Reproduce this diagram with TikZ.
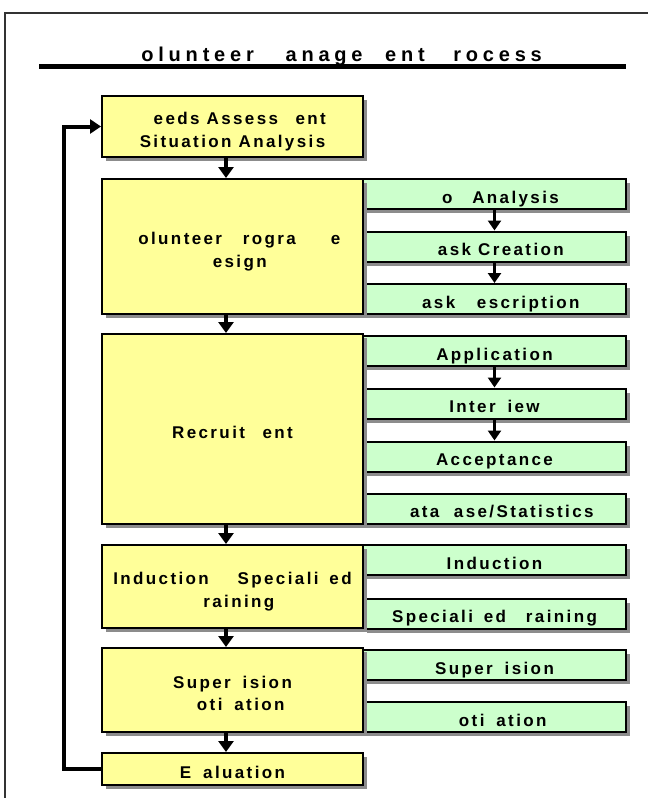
\documentclass[tikz,border=0pt]{standalone}
\usepackage{fontspec}
\newfontfamily\boxfont{Liberation Sans}[LetterSpace=14]
\newfontfamily\titlefont{Liberation Sans}[LetterSpace=24]
\usetikzlibrary{arrows.meta,shadows}
\definecolor{stageyellow}{HTML}{FFFF99}
\definecolor{taskgreen}{HTML}{CCFFCC}
\definecolor{shadowgray}{HTML}{8C8C8C}
% room left where a letter is not printed
\newcommand{\gap}[1]{\hspace{#1em}}

\begin{document}
\begin{tikzpicture}[x=1pt, y=-1pt,
    boxshadow/.style = {drop shadow={shadow xshift=4pt, shadow yshift=-4pt, fill=shadowgray, opacity=1}},
    stage/.style = {draw, line width=2pt, fill=stageyellow, boxshadow, minimum width=261pt, inner sep=0pt, align=center, font=\boxfont\bfseries\fontsize{17}{22.5}\selectfont},
    oneline/.style = {text height=18pt, text depth=0pt},
    twoline/.style = {text height=41pt, text depth=0pt},
    task/.style = {draw, line width=2pt, fill=taskgreen, boxshadow, minimum width=263pt, minimum height=30pt, inner sep=0pt, oneline, font=\boxfont\bfseries\fontsize{17}{20}\selectfont},
    flow/.style = {line width=3.5pt, -{Triangle[length=11pt,width=15pt]}},
    subflow/.style = {line width=3pt, -{Triangle[length=10pt,width=13pt]}},
    backflow/.style = {line width=4pt, -{Triangle[length=11pt,width=14pt]}}]

    \useasboundingbox (0,0) rectangle (648,798);

    % frame and title
    \draw[line width=2pt, black!80] (5,800) -- (5,13) -- (650,13);
    \node[anchor=base, font=\titlefont\bfseries\fontsize{20}{20}\selectfont] (title) at (332.5,61.5)
        {\gap{.91}olunteer \gap{1.07}anage\gap{1.13}ent \gap{.91}rocess};
    \draw[line width=4.5pt] (39,66.5) -- (626,66.5);

    % tasks
    \node[task] (job)         at (494.5,194)   {\gap{.70}o\gap{.75} Analysis};
    \node[task] (taskcreate)  at (494.5,246.5) {\gap{.75}ask Creation};
    \node[task] (taskdesc)    at (494.5,299)   {\gap{.75}ask \gap{.86}escription};
    \node[task] (application) at (494.5,351)   {Application};
    \node[task] (interview)   at (494.5,403.5) {Inter\gap{.70}iew};
    \node[task] (acceptance)  at (494.5,456.5) {Acceptance};
    \node[task] (database)    at (494.5,508.5) {\gap{.86}ata\gap{.86}ase/Statistics};
    \node[task] (induction)   at (494.5,560)   {Induction};
    \node[task] (spectrain)   at (494.5,613.5) {Speciali\gap{.64}ed \gap{.75}raining};
    \node[task] (supervise)   at (494.5,665)   {Super\gap{.70}ision};
    \node[task] (motivate)    at (494.5,717)   {\gap{.97}oti\gap{.70}ation};

    % stages
    \node[stage, twoline, minimum height=61pt]  (needs)       at (232.5,126.5) {\gap{.86}eeds Assess\gap{1.03}ent\gap{1.3}\\Situation Analysis};
    \node[stage, twoline, minimum height=135pt] (design)      at (232.5,246.5) {\gap{.81}olunteer \gap{.81}rogra\gap{2.06}e\\\gap{.86}esign};
    \node[stage, oneline, minimum height=190pt] (recruit)     at (232.5,429)   {Recruit\gap{1.03}ent};
    \node[stage, twoline, minimum height=83pt]  (training)    at (232.5,586.5) {Induction \gap{.86} Speciali\gap{.64}ed\\\gap{.75}raining};
    \node[stage, twoline, minimum height=84pt]  (supervision) at (232.5,690)   {Super\gap{.70}ision\gap{1.3}\\\gap{.97}oti\gap{.70}ation};
    \node[stage, oneline, minimum height=32pt]  (evaluation)  at (232.5,769)   {E\gap{.70}aluation};

    % arrows
    \draw[flow] ([xshift=-6.5pt]needs.south) -- ([xshift=-6.5pt]design.north);
    \draw[flow] ([xshift=-6.5pt]design.south) -- ([xshift=-6.5pt]recruit.north);
    \draw[flow] ([xshift=-6.5pt]recruit.south) -- ([xshift=-6.5pt]training.north);
    \draw[flow] ([xshift=-6.5pt]training.south) -- ([xshift=-6.5pt]supervision.north);
    \draw[flow] ([xshift=-6.5pt]supervision.south) -- ([xshift=-6.5pt]evaluation.north);
    \draw[subflow] (job) -- (taskcreate);
    \draw[subflow] (taskcreate) -- (taskdesc);
    \draw[subflow] (application) -- (interview);
    \draw[subflow] (interview) -- (acceptance);
    \draw[backflow] (evaluation.west) -- ++(-37,0) |- (needs.west);

\end{tikzpicture}
\end{document}
